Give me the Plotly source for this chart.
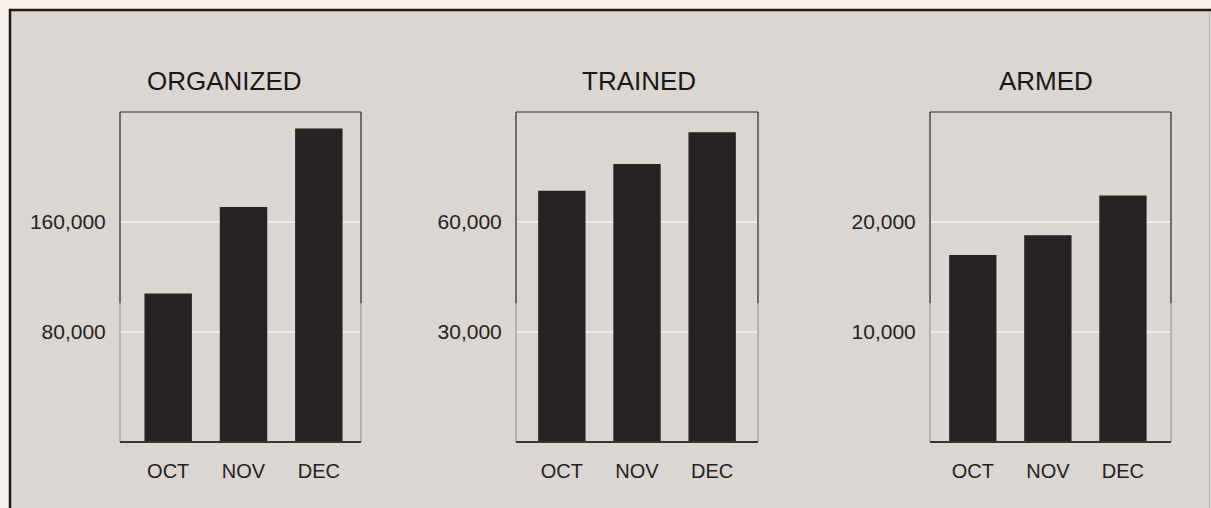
import plotly.graph_objects as go

# Monthly counts for the three categories
months = ["OCT", "NOV", "DEC"]
organized = [108000, 171000, 228000]
trained = [68500, 75800, 84500]
armed = [17000, 18800, 22400]

panel_titles = ["ORGANIZED", "TRAINED", "ARMED"]
panel_series = [organized, trained, armed]
panel_ranges = [[0, 240000], [0, 90000], [0, 30000]]
panel_ticks = [[80000, 160000], [30000, 60000], [10000, 20000]]
panel_ticktext = [["80,000", "160,000"], ["30,000", "60,000"], ["10,000", "20,000"]]

W, H = 1211, 508
FONT = "Liberation Sans, Arial, Helvetica, sans-serif"
BG_OUT = "#f6f0e8"
BG_IN = "#dbd6d1"
BAR = "#262223"
TEXT = "#252122"

# pixel layout of each panel box (left, right), category range and title centre
x_px = [(120, 361), (516, 758), (930, 1171)]
x_rng = [(-0.64, 2.56), (-0.61, 2.61), (-0.57, 2.64)]
title_x = [225, 639, 1046]
top_px, base_px = 112, 442
ydom = [1 - base_px / H, 1 - top_px / H]

fig = go.Figure()
shapes = [
    dict(type="rect", xref="paper", yref="paper",
         x0=10 / W, x1=1.02, y0=-0.1, y1=1 - 10 / H,
         fillcolor=BG_IN, line=dict(color="#1c1919", width=2.5), layer="below"),
    dict(type="line", xref="paper", yref="paper",
         x0=1209.5 / W, x1=1209.5 / W, y0=0, y1=1 - 12 / H,
         line=dict(color="#b9b5b2", width=1), layer="below"),
]
annotations = []

for i in range(3):
    n = "" if i == 0 else str(i + 1)
    xa, ya = "x" + n, "y" + n
    fig.add_trace(go.Bar(
        x=months, y=panel_series[i], xaxis=xa, yaxis=ya,
        marker=dict(color=BAR, line=dict(width=0)), width=0.63,
        showlegend=False, hoverinfo="x+y",
    ))
    axis_x = dict(
        domain=[x_px[i][0] / W, x_px[i][1] / W], anchor=ya,
        type="category", range=list(x_rng[i]), showgrid=False, zeroline=False,
        showline=False, ticks="outside", ticklen=11, tickcolor="rgba(0,0,0,0)",
        tickfont=dict(family=FONT, size=20, color=TEXT), fixedrange=True,
    )
    axis_y = dict(
        domain=ydom, anchor=xa, range=panel_ranges[i],
        tickvals=panel_ticks[i], ticktext=panel_ticktext[i],
        showgrid=True, gridcolor="#eeece9", gridwidth=2, zeroline=False,
        showline=False, ticks="outside", ticklen=9, tickcolor="rgba(0,0,0,0)",
        tickfont=dict(family=FONT, size=21, color=TEXT), fixedrange=True,
    )
    fig.update_layout(**{"xaxis" + n: axis_x, "yaxis" + n: axis_y})

    xd, yd = xa + " domain", ya + " domain"
    # box outline: top edge, sides darker in the upper part, lighter lower down
    shapes += [
        dict(type="line", xref=xd, yref=yd, x0=0, x1=1, y0=1, y1=1,
             line=dict(color="#2a2626", width=1.2)),
        dict(type="line", xref=xd, yref=yd, x0=0, x1=0, y0=0.42, y1=1,
             line=dict(color="#2a2626", width=1.2)),
        dict(type="line", xref=xd, yref=yd, x0=1, x1=1, y0=0.42, y1=1,
             line=dict(color="#2a2626", width=1.2)),
        dict(type="line", xref=xd, yref=yd, x0=0, x1=0, y0=0, y1=0.42,
             line=dict(color="#8f8b89", width=1)),
        dict(type="line", xref=xd, yref=yd, x0=1, x1=1, y0=0, y1=0.42,
             line=dict(color="#8f8b89", width=1)),
        dict(type="line", xref=xd, yref=yd, x0=0, x1=1, y0=0, y1=0,
             line=dict(color="#3a3535", width=2), layer="above"),
    ]
    annotations.append(dict(
        text=panel_titles[i], xref="paper", yref="paper",
        x=title_x[i] / W, y=1 - 81 / H,
        xanchor="center", yanchor="middle", showarrow=False,
        font=dict(family=FONT, size=26, color="#1a1717"),
    ))

fig.update_layout(
    width=W, height=H, margin=dict(l=0, r=0, t=0, b=0),
    paper_bgcolor=BG_OUT, plot_bgcolor="rgba(0,0,0,0)",
    shapes=shapes, annotations=annotations, bargap=0.37,
)

fig.write_html("out.html", config={"displayModeBar": False})
